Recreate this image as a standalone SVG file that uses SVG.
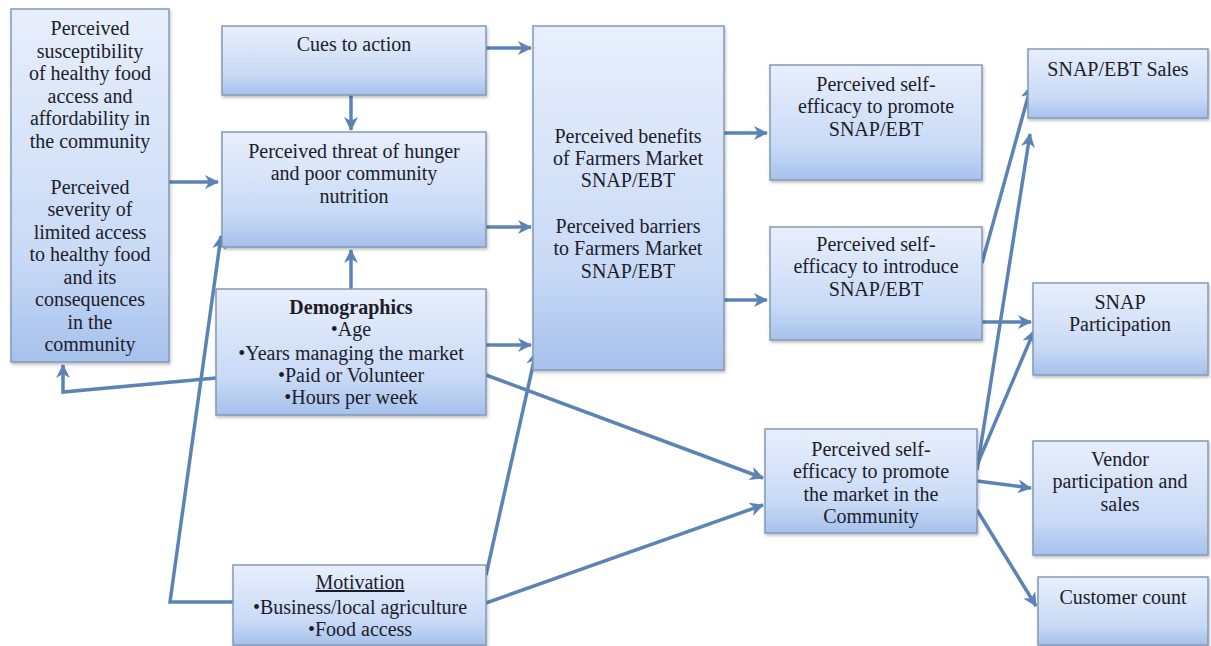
<svg xmlns="http://www.w3.org/2000/svg" width="1211" height="646" viewBox="0 0 1211 646">
<defs>
<linearGradient id="g" x1="0" y1="0" x2="0" y2="1">
<stop offset="0" stop-color="#e8effc"/>
<stop offset="0.7" stop-color="#c9daf6"/>
<stop offset="1" stop-color="#a6c1ec"/>
</linearGradient>
<filter id="sh" x="-5%" y="-5%" width="110%" height="115%">
<feDropShadow dx="1" dy="2" stdDeviation="1.5" flood-color="#000" flood-opacity="0.25"/>
</filter>
<marker id="ah" markerUnits="userSpaceOnUse" markerWidth="15" markerHeight="14" refX="13" refY="7" orient="auto">
<path d="M0,0 L14,7 L0,14 L4,7 z" fill="#5b84b5"/>
</marker>
<style>
.box{fill:url(#g);stroke:#8399b9;stroke-width:1.5;filter:url(#sh)}
.c{fill:none;stroke:#5b84b5;stroke-width:3.5;marker-end:url(#ah)}
</style>
</defs>
<rect width="1211" height="646" fill="#ffffff"/>

<g id="connectors">
<path class="c" d="M169,182 L218,182"/>
<path class="c" d="M351,95 L351,130"/>
<path class="c" d="M486,48 L531,48"/>
<path class="c" d="M486,227 L531,227"/>
<path class="c" d="M351,289 L351,250"/>
<path class="c" d="M486,345 L531,345"/>
<path class="c" d="M216,378 L63,392 L63,365"/>
<path class="c" d="M233,602 L170,602 L221,236"/>
<path class="c" d="M486,575 L536,352"/>
<path class="c" d="M486,375 L763,478"/>
<path class="c" d="M486,603 L763,505"/>
<path class="c" d="M724,133 L767,133"/>
<path class="c" d="M724,300 L767,300"/>
<path class="c" d="M982,263 L1031,86"/>
<path class="c" d="M977,470 L1030,134"/>
<path class="c" d="M982,322 L1031,322"/>
<path class="c" d="M977,465 L1034,331"/>
<path class="c" d="M977,481 L1031,488"/>
<path class="c" d="M977,510 L1036,606"/>
</g>

<g id="susceptibility">
<rect class="box" x="11" y="9" width="158" height="353"/>
<text font-family="Liberation Serif" font-size="20" fill="#1c1c2a" text-anchor="middle"><tspan x="90" y="35">Perceived</tspan><tspan x="90" y="58">susceptibility</tspan><tspan x="90" y="80">of healthy food</tspan><tspan x="90" y="103">access and</tspan><tspan x="90" y="125">affordability in</tspan><tspan x="90" y="148">the community</tspan><tspan x="90" y="194">Perceived</tspan><tspan x="90" y="216">severity of</tspan><tspan x="90" y="239">limited access</tspan><tspan x="90" y="261">to healthy food</tspan><tspan x="90" y="284">and its</tspan><tspan x="90" y="306">consequences</tspan><tspan x="90" y="329">in the</tspan><tspan x="90" y="351">community</tspan></text>
</g>

<g id="cues">
<rect class="box" x="222" y="26" width="264" height="69"/>
<text font-family="Liberation Serif" font-size="20" fill="#1c1c2a" text-anchor="middle"><tspan x="354" y="51">Cues to action</tspan></text>
</g>

<g id="threat">
<rect class="box" x="222" y="132" width="264" height="115"/>
<text font-family="Liberation Serif" font-size="20" fill="#1c1c2a" text-anchor="middle"><tspan x="354" y="158">Perceived threat of hunger</tspan><tspan x="354" y="180">and poor community</tspan><tspan x="354" y="203">nutrition</tspan></text>
</g>

<g id="demographics">
<rect class="box" x="216" y="289" width="270" height="126"/>
<text font-family="Liberation Serif" font-size="20" fill="#1c1c2a" text-anchor="middle"><tspan x="351" y="314" font-weight="bold">Demographics</tspan><tspan x="351" y="336">•Age</tspan><tspan x="351" y="360">•Years managing the market</tspan><tspan x="351" y="382">•Paid or Volunteer</tspan><tspan x="351" y="404">•Hours per week</tspan></text>
</g>

<g id="motivation">
<rect class="box" x="233" y="565" width="253" height="80"/>
<text font-family="Liberation Serif" font-size="20" fill="#1c1c2a" text-anchor="middle"><tspan x="360" y="589" text-decoration="underline">Motivation</tspan><tspan x="360" y="614">•Business/local agriculture</tspan><tspan x="360" y="636">•Food access</tspan></text>
</g>

<g id="benefits">
<rect class="box" x="533" y="26" width="191" height="344"/>
<text font-family="Liberation Serif" font-size="20" fill="#1c1c2a" text-anchor="middle"><tspan x="628" y="143">Perceived benefits</tspan><tspan x="628" y="165">of  Farmers Market</tspan><tspan x="628" y="187">SNAP/EBT</tspan><tspan x="628" y="233">Perceived barriers</tspan><tspan x="628" y="255">to Farmers Market</tspan><tspan x="628" y="278">SNAP/EBT</tspan></text>
</g>

<g id="promote-snap">
<rect class="box" x="770" y="65" width="212" height="115"/>
<text font-family="Liberation Serif" font-size="20" fill="#1c1c2a" text-anchor="middle"><tspan x="876" y="91">Perceived self-</tspan><tspan x="876" y="113">efficacy to promote</tspan><tspan x="876" y="136">SNAP/EBT</tspan></text>
</g>

<g id="introduce-snap">
<rect class="box" x="770" y="227" width="212" height="113"/>
<text font-family="Liberation Serif" font-size="20" fill="#1c1c2a" text-anchor="middle"><tspan x="876" y="251">Perceived self-</tspan><tspan x="876" y="273">efficacy to introduce</tspan><tspan x="876" y="296">SNAP/EBT</tspan></text>
</g>

<g id="promote-market">
<rect class="box" x="765" y="429" width="212" height="104"/>
<text font-family="Liberation Serif" font-size="20" fill="#1c1c2a" text-anchor="middle"><tspan x="871" y="456">Perceived self-</tspan><tspan x="871" y="478">efficacy to promote</tspan><tspan x="871" y="501">the market in the</tspan><tspan x="871" y="523">Community</tspan></text>
</g>

<g id="snap-sales">
<rect class="box" x="1028" y="49" width="180" height="69"/>
<text font-family="Liberation Serif" font-size="20" fill="#1c1c2a" text-anchor="middle"><tspan x="1118" y="76">SNAP/EBT Sales</tspan></text>
</g>

<g id="snap-participation">
<rect class="box" x="1033" y="283" width="175" height="92"/>
<text font-family="Liberation Serif" font-size="20" fill="#1c1c2a" text-anchor="middle"><tspan x="1120" y="309">SNAP</tspan><tspan x="1120" y="331">Participation</tspan></text>
</g>

<g id="vendor">
<rect class="box" x="1033" y="441" width="175" height="114"/>
<text font-family="Liberation Serif" font-size="20" fill="#1c1c2a" text-anchor="middle"><tspan x="1120" y="466">Vendor</tspan><tspan x="1120" y="488">participation and</tspan><tspan x="1120" y="511">sales</tspan></text>
</g>

<g id="customer">
<rect class="box" x="1038" y="577" width="170" height="68"/>
<text font-family="Liberation Serif" font-size="20" fill="#1c1c2a" text-anchor="middle"><tspan x="1123" y="604">Customer count</tspan></text>
</g>
</svg>
